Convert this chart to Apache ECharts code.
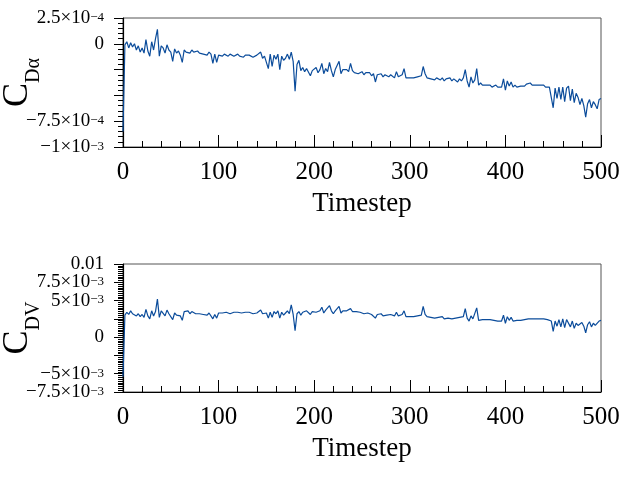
<!DOCTYPE html>
<html>
<head>
<meta charset="utf-8">
<script src="https://cdn.jsdelivr.net/npm/echarts@6/dist/echarts.min.js"></script>
<style>
  html, body { margin: 0; padding: 0; background: #fff; }
  #chart { width: 619px; height: 484px; }
</style>
</head>
<body>
<div id="chart"></div>
<script>
// timesteps, sampled every 2 steps (0..500)
const timesteps = [];
for (let t = 0; t <= 500; t += 2) timesteps.push(t);

// C_Dalpha, in units of 1e-4
const cDalpha = [
  -8.5, -0.1, 0.2, -0.4, 0.1, -0.3, 0.0, -0.6, -0.2, -0.8,
  -0.4, -0.9, 0.4, -0.7, -1.2, 0.2, -0.6, 0.5, 1.4, -1.2,
  -0.2, -0.4, -0.9, -0.1, -0.6, -0.8, -1.7, -0.5, -0.9, -0.7,
  -1.1, -1.8, -0.6, -0.8, -0.7, -0.9, -0.6, -0.8, -0.9, -0.7,
  -0.9, -0.8, -1.0, -0.9, -1.1, -0.8, -1.0, -1.9, -1.0, -1.8,
  -1.1, -1.0, -1.2, -1.0, -1.1, -1.2, -1.0, -1.1, -1.2, -1.1,
  -1.0, -1.2, -1.1, -1.3, -1.1, -1.2, -1.1, -1.2, -1.3, -1.2,
  -1.1, -1.2, -0.8, -1.4, -1.2, -1.3, -2.4, -1.0, -2.2, -1.1,
  -1.5, -1.0, -2.5, -1.2, -1.6, -1.4, -1.0, -1.5, -0.8, -1.7,
  -4.6, -2.0, -1.6, -2.6, -2.3, -2.7, -2.4, -2.5, -3.1, -2.6,
  -2.5, -2.3, -2.8, -2.5, -1.9, -2.9, -2.4, -2.7, -1.8, -2.6,
  -3.2, -2.5, -2.6, -1.7, -2.9, -2.5, -2.6, -2.5, -2.7, -1.9,
  -2.6, -2.8, -2.7, -2.9, -2.8, -2.7, -3.0, -2.8, -2.9, -2.8,
  -3.1, -2.9, -3.7, -3.0, -3.1, -2.9, -3.2, -3.0, -3.1, -3.2,
  -3.0, -3.1, -3.3, -2.7, -3.2, -3.1, -3.0, -2.4, -3.3, -3.2,
  -3.3, -3.2, -3.3, -3.4, -3.2, -3.3, -3.1, -2.2, -2.9, -3.3,
  -3.2, -3.4, -3.3, -3.5, -3.3, -3.4, -3.5, -3.3, -3.6, -3.4,
  -3.5, -3.3, -3.6, -3.4, -3.5, -3.7, -3.4, -3.6, -3.3, -2.5,
  -3.6, -4.2, -3.2, -3.8, -3.5, -2.4, -4.0, -3.8, -4.0, -4.1,
  -4.0, -4.1, -4.0, -4.2, -4.1, -4.0, -4.2, -4.1, -4.2, -3.4,
  -4.5, -3.6, -4.1, -3.7, -4.2, -4.0, -4.2, -4.3, -4.1, -4.2,
  -4.1, -3.9, -4.0, -3.8, -4.0, -3.9, -4.0, -4.1, -4.0, -4.1,
  -4.0, -4.2, -4.1, -4.2, -4.3, -6.2, -4.3, -5.3, -4.2, -5.4,
  -4.2, -5.6, -4.3, -4.1, -5.5, -4.4, -5.7, -4.8, -5.2, -5.9,
  -5.3, -6.0, -7.1, -5.8, -5.4, -6.2, -5.6, -5.9, -6.3, -5.4,
  -5.3
];

// C_DV, in units of 1e-3
const cDV = [
  -5.4, 3.0, 3.4, 3.1, 3.6, 3.2, 3.3, 2.9, 3.2, 2.8,
  3.1, 2.7, 3.8, 2.9, 2.5, 3.6, 2.9, 3.5, 5.2, 2.7,
  3.6, 3.4, 2.9, 3.7, 3.2, 3.0, 2.4, 3.3, 3.0, 3.2,
  2.9, 2.3, 3.5, 3.3, 3.6, 3.2, 3.5, 3.3, 3.2, 3.4,
  3.2, 3.3, 3.1, 3.2, 3.0, 3.3, 3.1, 2.5, 3.1, 2.6,
  3.3, 3.2, 3.3, 3.2, 3.4, 3.3, 3.2, 3.3, 3.4, 3.3,
  3.4, 3.3, 3.3, 3.2, 3.4, 3.3, 3.4, 3.3, 3.2, 3.4,
  3.3, 3.4, 3.7, 3.2, 3.4, 3.3, 2.6, 3.4, 2.7, 3.5,
  3.2, 3.6, 2.6, 3.4, 3.0, 3.3, 3.6, 3.2, 4.4, 3.1,
  0.9, 3.2, 3.5, 3.0, 3.4, 3.3, 3.6, 3.4, 3.1, 3.5,
  3.6, 3.4, 3.5, 3.6, 4.1, 3.3, 3.7, 3.5, 4.3, 3.6,
  3.2, 3.6, 3.5, 4.2, 3.3, 3.6, 3.5, 3.6, 3.4, 3.9,
  3.5, 3.4, 3.5, 3.3, 3.4, 3.5, 3.2, 3.4, 3.3, 3.4,
  3.1, 3.3, 2.6, 3.1, 3.0, 3.2, 2.9, 3.1, 3.0, 2.9,
  3.1, 3.0, 2.9, 3.4, 2.9, 3.0, 3.1, 3.6, 2.8, 2.9,
  2.8, 2.9, 2.8, 2.7, 2.9, 2.8, 3.0, 4.2, 3.1, 2.8,
  2.9, 2.7, 2.8, 2.6, 2.8, 2.7, 2.6, 2.8, 2.5, 2.7,
  2.6, 2.8, 2.5, 2.7, 2.6, 2.4, 2.7, 2.5, 2.8, 3.9,
  2.6, 2.2, 2.9, 2.5, 2.7, 4.0, 2.3, 2.5, 2.4, 2.3,
  2.4, 2.3, 2.4, 2.2, 2.3, 2.4, 2.2, 2.3, 2.2, 3.0,
  1.9, 2.8, 2.3, 2.7, 2.2, 2.4, 2.3, 2.1, 2.3, 2.2,
  2.4, 2.6, 2.5, 2.7, 2.5, 2.6, 2.5, 2.4, 2.5, 2.4,
  2.5, 2.3, 2.4, 2.3, 2.2, 0.8, 2.2, 1.5, 2.4, 1.4,
  2.5, 1.3, 2.4, 2.6, 1.4, 2.2, 1.2, 1.9, 1.6, 1.4,
  2.0, 1.5, 0.6, 1.7, 2.1, 1.4, 1.9, 1.6, 1.5, 2.2,
  2.3
];

// tick labels that are shown (the rest are left blank, as in the figure)
const topTickLabels = {
  '2.5': '{m|2.5×10}{s|−4}',
  '0': '{m|0}',
  '-7.5': '{m|−7.5×10}{s|−4}',
  '-10': '{m|−1×10}{s|−3}'
};
// lower axis: split over two overlaid axes so ECharts does not drop crowded labels
const bottomTickLabels = {
  '10': '{m|0.01}',
  '5': '{m|5×10}{s|−3}',
  '0': '{m|0}',
  '-7.5': '{m|−7.5×10}{s|−3}'
};
const bottomTickLabelsExtra = {
  '7.5': '{m|7.5×10}{s|−3}',
  '-5': '{m|−5×10}{s|−3}'
};

const FONT = '"Liberation Serif", "Times New Roman", serif';
const lineColor = '#0b4c9b';

const labelRich = {
  m: { fontFamily: FONT, fontSize: 19, lineHeight: 14, color: '#000' },
  s: { fontFamily: FONT, fontSize: 13, lineHeight: 8, color: '#000', verticalAlign: 'top' }
};

function xAxisFor(gridIndex) {
  return {
    type: 'value', gridIndex: gridIndex,
    min: 0, max: 500, interval: 100,
    name: 'Timestep', nameLocation: 'middle', nameGap: 43, nameMoveOverlap: false,
    nameTextStyle: { fontFamily: FONT, fontSize: 27, color: '#000' },
    axisLine: { onZero: false, lineStyle: { color: '#000', width: 1.2 } },
    axisTick: { inside: true, length: 12, lineStyle: { color: '#000' } },
    minorTick: { show: true, splitNumber: 5, length: 6, lineStyle: { color: '#000' } },
    splitLine: { show: false },
    axisLabel: { fontFamily: FONT, fontSize: 25, color: '#000', margin: 13 }
  };
}

function yAxisFor(gridIndex, min, max, minorSplit, labels, sub) {
  return {
    type: 'value', gridIndex: gridIndex, position: 'left',
    min: min, max: max, interval: 2.5,
    name: '{c|C}{d|' + sub + '}', nameLocation: 'middle', nameRotate: 90, nameGap: 79,
    nameMoveOverlap: false,
    nameTextStyle: {
      rich: {
        c: { fontFamily: FONT, fontSize: 36, color: '#000', padding: [0, 0, 8, 0] },
        d: { fontFamily: FONT, fontSize: 20, color: '#000', verticalAlign: 'bottom' }
      }
    },
    axisLine: { show: true, onZero: false, lineStyle: { color: '#000', width: 1.2 } },
    axisTick: { inside: false, length: 9, lineStyle: { color: '#000' } },
    minorTick: { show: true, splitNumber: minorSplit, length: 5, lineStyle: { color: '#000' } },
    splitLine: { show: false },
    axisLabel: {
      margin: 19,
      formatter: v => labels[String(v)] || '',
      rich: labelRich
    }
  };
}

// a second axis on the same grid, same side, that only carries labels
function labelOnlyAxis(gridIndex, min, max, labels) {
  return {
    type: 'value', gridIndex: gridIndex, position: 'left', offset: 0,
    min: min, max: max, interval: 2.5,
    axisLine: { show: false, onZero: false },
    axisTick: { show: false },
    splitLine: { show: false },
    axisLabel: {
      margin: 19,
      formatter: v => labels[String(v)] || '',
      rich: labelRich
    }
  };
}

const chart = echarts.init(document.getElementById('chart'));

chart.setOption({
  animation: false,
  backgroundColor: '#fff',
  grid: [
    { left: 123, top: 18, width: 478, height: 129, containLabel: false, outerBoundsMode: 'none',
      show: true, borderColor: '#555', borderWidth: 1 },
    { left: 123, top: 264, width: 478, height: 128, containLabel: false, outerBoundsMode: 'none',
      show: true, borderColor: '#555', borderWidth: 1 }
  ],
  xAxis: [xAxisFor(0), xAxisFor(1)],
  yAxis: [
    yAxisFor(0, -10, 2.5, 5, topTickLabels, 'Dα'),
    yAxisFor(1, -7.5, 10, 10, bottomTickLabels, 'DV'),
    labelOnlyAxis(1, -7.5, 10, bottomTickLabelsExtra)
  ],
  series: [
    {
      type: 'line', xAxisIndex: 0, yAxisIndex: 0,
      data: timesteps.map((t, i) => [t, cDalpha[i]]),
      showSymbol: false, lineStyle: { color: lineColor, width: 1.2 }
    },
    {
      type: 'line', xAxisIndex: 1, yAxisIndex: 1,
      data: timesteps.map((t, i) => [t, cDV[i]]),
      showSymbol: false, lineStyle: { color: lineColor, width: 1.2 }
    }
  ]
});
</script>
</body>
</html>
